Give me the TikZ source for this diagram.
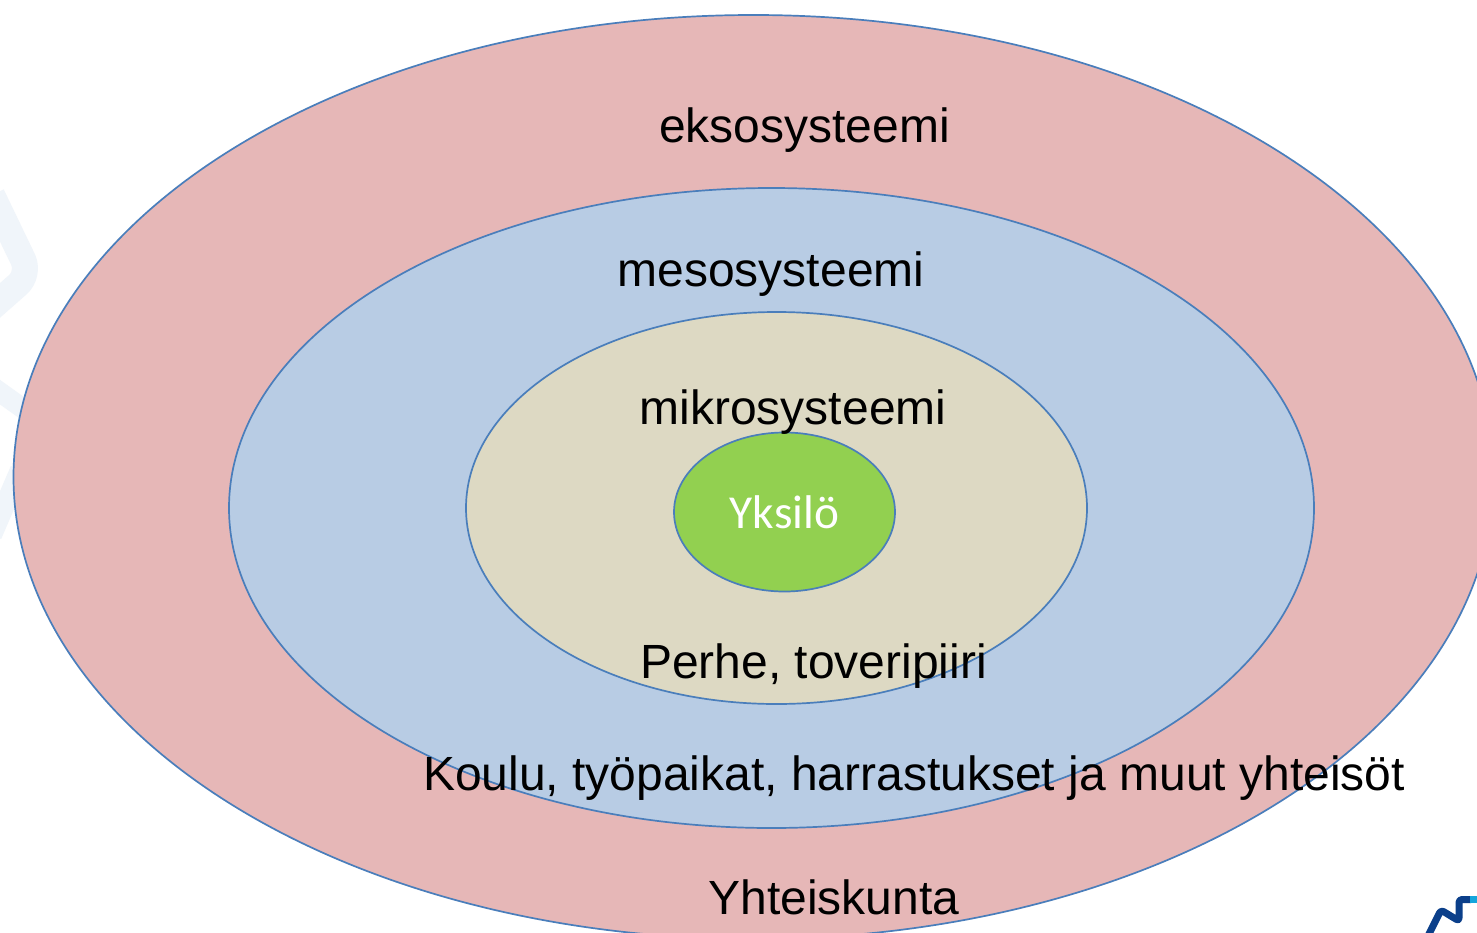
\documentclass[tikz,border=0pt]{standalone}
\usepackage{fontspec}
\usetikzlibrary{shapes.geometric}
\setmainfont{Liberation Sans}
\newfontfamily\yfont{Carlito}
\definecolor{eks}{HTML}{E6B7B7}
\definecolor{mes}{HTML}{B8CCE4}
\definecolor{mik}{HTML}{DDD9C3}
\definecolor{yks}{HTML}{92D050}
\definecolor{edge}{HTML}{4A7EBB}
\definecolor{wm}{HTML}{F0F5FA}
\definecolor{logoa}{HTML}{0B3F8A}
\definecolor{logob}{HTML}{14A5DC}
\tikzset{
  ring/.style={shape=ellipse,draw=edge,line width=1.7pt,inner sep=0pt,outer sep=0pt},
  lab/.style={inner sep=0pt,text=black,font=\fontsize{48pt}{54pt}\selectfont}
}
\begin{document}
\begin{tikzpicture}[x=1pt,y=-1pt]
\useasboundingbox (0,0) rectangle (1477,932);
\clip (0,0) rectangle (1477,932);
\fill[white] (0,0) rectangle (1477,932);
\draw[wm,line width=26pt,line join=round,rounded corners=16pt] (-8,195) -- (30,274) -- (-20,318);
\draw[wm,line width=20pt] (-10,385) -- (25,410);
\draw[wm,line width=20pt] (-8,535) -- (20,470);
\node[ring,fill=eks,minimum width=1480pt,minimum height=924pt] (n1) at (753.5,477) {};
\node[ring,fill=mes,minimum width=1085pt,minimum height=640pt] (n2) at (771.5,508) {};
\node[ring,fill=mik,minimum width=621pt,minimum height=392pt] (n3) at (776.5,508) {};
\node[ring,fill=yks,minimum width=221pt,minimum height=159pt] (n4) at (784.5,512) {};
\node[lab,text=white,font=\yfont\fontsize{47.3pt}{54pt}\selectfont] (y) at (784.5,512.5) {Yksilö};
\node[lab] (a) at (804.5,130) {eksosysteemi};
\node[lab] (b) at (771,274) {mesosysteemi};
\node[lab] (c) at (793,412) {mikrosysteemi};
\node[lab] (d) at (813.5,666) {Perhe, toveripiiri};
\node[lab] (e) at (914,778) {Koulu, työpaikat, harrastukset ja muut yhteisöt};
\node[lab] (f) at (834,897) {Yhteiskunta};
\draw[logoa,line width=7pt,line join=round,rounded corners=3pt] (1428,936) -- (1441,910) -- (1459,921) -- (1459,899.5) -- (1471,899.5);
\fill[logob] (1470,896) rectangle (1477,903);
\end{tikzpicture}
\end{document}
